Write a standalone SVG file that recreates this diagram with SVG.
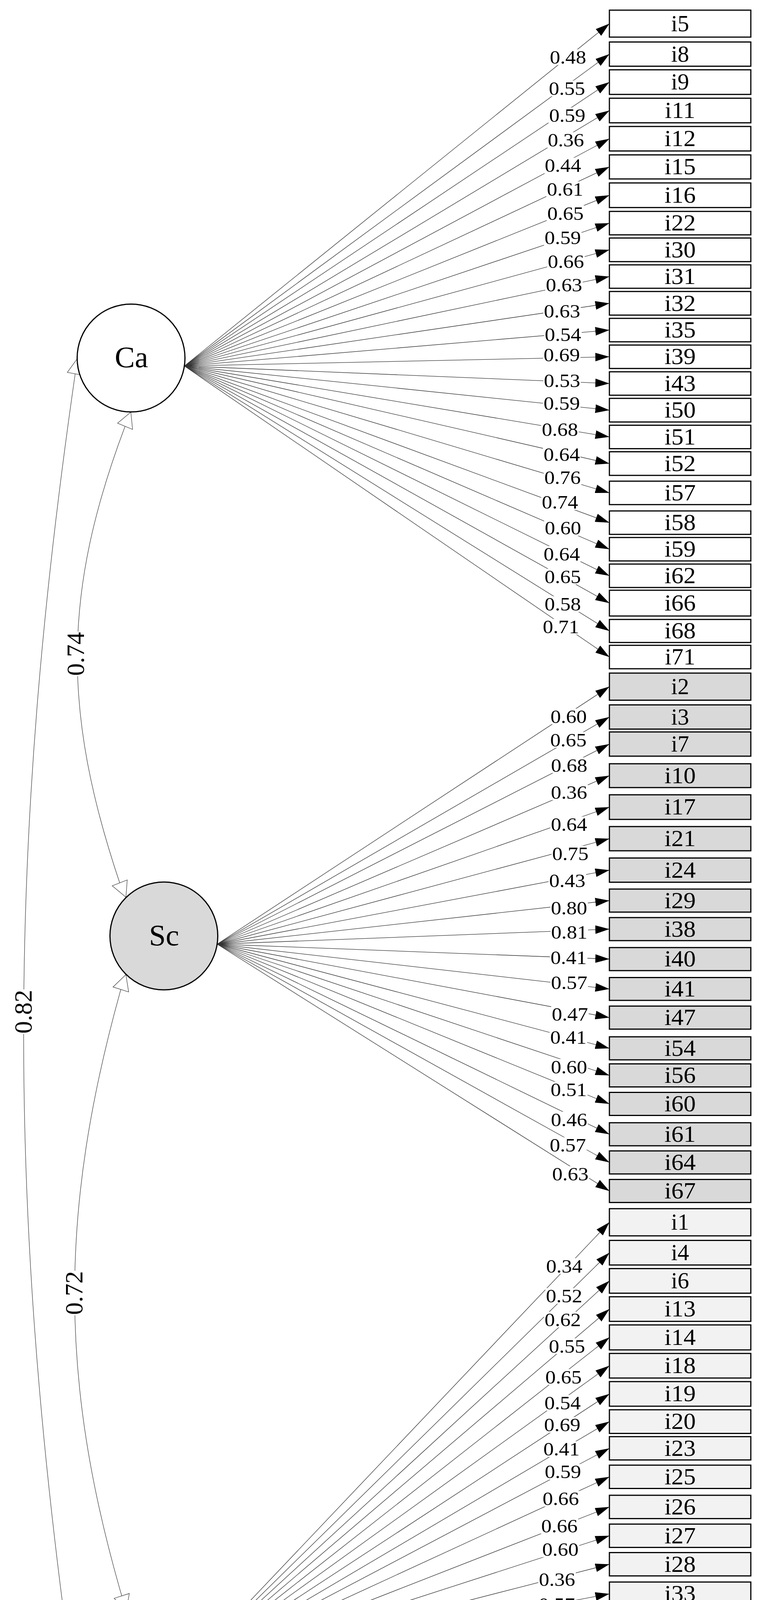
<svg xmlns="http://www.w3.org/2000/svg" width="1966" height="5360" viewBox="0 0 1966 5360">
<defs>
<style>
.edge{stroke:#333;stroke-width:1.3;fill:none;marker-end:url(#arr)}
.cov{stroke:#444;stroke-width:1.3;fill:none}
.ah{fill:#fff;stroke:#444;stroke-width:1.3}
.lbg{fill:#fff}
.lab{font-family:'Liberation Serif','Times New Roman',serif;font-size:48px;text-anchor:middle;fill:#000}
.clab{font-family:'Liberation Serif','Times New Roman',serif;font-size:64px;text-anchor:middle;fill:#000}
.box{stroke:#000;stroke-width:3}
.ca{fill:#fff}.sc{fill:#d9d9d9}.in{fill:#f2f2f2}
.bt{font-family:'Liberation Serif','Times New Roman',serif;font-size:59px;text-anchor:middle;fill:#000}
.nt{font-family:'Liberation Serif','Times New Roman',serif;font-size:77px;text-anchor:middle;fill:#000}
.lat{stroke:#000;stroke-width:3}
</style>
<marker id="arr" markerUnits="userSpaceOnUse" markerWidth="37" markerHeight="23" viewBox="0 0 37 23" refX="36" refY="11" orient="auto"><path d="M0,0 L36,11 L0,22 z" fill="#000"/></marker>
</defs>
<rect width="1966" height="5360" fill="#fff"/>

<g id="connectors">
<g id="cov-edges">
<path class="cov" d="M192.5,957 C19.4,2153 19.4,3067 175.5,4221.8"/>
<path class="cov" d="M320.2,1091.3 C159.5,1518 159.5,1823 306.5,2260.2"/>
<path class="cov" d="M309.3,2533 C151.2,3100 151.2,3532 311.7,4085.5"/>
<polygon class="ah" points="197.7,918.3 172.3,953.3 212.7,960.7"/>
<polygon class="ah" points="335,1055 301,1083.3 339.3,1099.3"/>
<polygon class="ah" points="322.3,2296.7 287.3,2267.7 325.7,2252.7"/>
<polygon class="ah" points="322.3,2495 289.3,2526.7 329.3,2539.3"/>
<polygon class="ah" points="323.3,4123.3 292.3,4091.7 331,4079.3"/>
<polygon class="ah" points="185,4260 160,4224.3 191,4219.3"/>
<rect class="lbg" x="165" y="1617" width="56" height="114"/>
<text class="clab" transform="translate(193.3,1674) rotate(-90)" x="0" y="21.5" textLength="112" lengthAdjust="spacingAndGlyphs">0.74</text>
<rect class="lbg" x="161" y="3253" width="56" height="114"/>
<text class="clab" transform="translate(189,3310) rotate(-90)" x="0" y="21.5" textLength="112" lengthAdjust="spacingAndGlyphs">0.72</text>
<rect class="lbg" x="31" y="2533" width="56" height="114"/>
<text class="clab" transform="translate(59,2590) rotate(-90)" x="0" y="21.5" textLength="112" lengthAdjust="spacingAndGlyphs">0.82</text>
</g>

<g id="loadings-Ca">
<line class="edge" x1="472" y1="937" x2="1560" y2="60.5"/>
<line class="edge" x1="472" y1="937" x2="1560" y2="138.5"/>
<line class="edge" x1="472" y1="937" x2="1560" y2="210.2"/>
<line class="edge" x1="472" y1="937" x2="1560" y2="282.9"/>
<line class="edge" x1="472" y1="937" x2="1560" y2="355.2"/>
<line class="edge" x1="472" y1="937" x2="1560" y2="427.3"/>
<line class="edge" x1="472" y1="937" x2="1560" y2="499.8"/>
<line class="edge" x1="472" y1="937" x2="1560" y2="571.2"/>
<line class="edge" x1="472" y1="937" x2="1560" y2="639.6"/>
<line class="edge" x1="472" y1="937" x2="1560" y2="708"/>
<line class="edge" x1="472" y1="937" x2="1560" y2="776.5"/>
<line class="edge" x1="472" y1="937" x2="1560" y2="845"/>
<line class="edge" x1="472" y1="937" x2="1560" y2="913.3"/>
<line class="edge" x1="472" y1="937" x2="1560" y2="981.8"/>
<line class="edge" x1="472" y1="937" x2="1560" y2="1050"/>
<line class="edge" x1="472" y1="937" x2="1560" y2="1118.6"/>
<line class="edge" x1="472" y1="937" x2="1560" y2="1186.8"/>
<line class="edge" x1="472" y1="937" x2="1560" y2="1261.8"/>
<line class="edge" x1="472" y1="937" x2="1560" y2="1338"/>
<line class="edge" x1="472" y1="937" x2="1560" y2="1406"/>
<line class="edge" x1="472" y1="937" x2="1560" y2="1474"/>
<line class="edge" x1="472" y1="937" x2="1560" y2="1544"/>
<line class="edge" x1="472" y1="937" x2="1560" y2="1615.3"/>
<line class="edge" x1="472" y1="937" x2="1560" y2="1682"/>
</g>
<g id="loadings-Sc">
<line class="edge" x1="556" y1="2417" x2="1560" y2="1757.8"/>
<line class="edge" x1="556" y1="2417" x2="1560" y2="1835.5"/>
<line class="edge" x1="556" y1="2417" x2="1560" y2="1904.8"/>
<line class="edge" x1="556" y1="2417" x2="1560" y2="1985.7"/>
<line class="edge" x1="556" y1="2417" x2="1560" y2="2066.2"/>
<line class="edge" x1="556" y1="2417" x2="1560" y2="2147"/>
<line class="edge" x1="556" y1="2417" x2="1560" y2="2227.5"/>
<line class="edge" x1="556" y1="2417" x2="1560" y2="2305.5"/>
<line class="edge" x1="556" y1="2417" x2="1560" y2="2378.5"/>
<line class="edge" x1="556" y1="2417" x2="1560" y2="2455.3"/>
<line class="edge" x1="556" y1="2417" x2="1560" y2="2531.8"/>
<line class="edge" x1="556" y1="2417" x2="1560" y2="2605.1"/>
<line class="edge" x1="556" y1="2417" x2="1560" y2="2683.7"/>
<line class="edge" x1="556" y1="2417" x2="1560" y2="2753"/>
<line class="edge" x1="556" y1="2417" x2="1560" y2="2826"/>
<line class="edge" x1="556" y1="2417" x2="1560" y2="2903.7"/>
<line class="edge" x1="556" y1="2417" x2="1560" y2="2975.8"/>
<line class="edge" x1="556" y1="2417" x2="1560" y2="3048.9"/>
</g>
<g id="loadings-In">
<line class="edge" x1="461" y1="4287" x2="1560" y2="3129"/>
<line class="edge" x1="461" y1="4287" x2="1560" y2="3206.9"/>
<line class="edge" x1="461" y1="4287" x2="1560" y2="3279.1"/>
<line class="edge" x1="461" y1="4287" x2="1560" y2="3351.2"/>
<line class="edge" x1="461" y1="4287" x2="1560" y2="3423.8"/>
<line class="edge" x1="461" y1="4287" x2="1560" y2="3496.3"/>
<line class="edge" x1="461" y1="4287" x2="1560" y2="3568.4"/>
<line class="edge" x1="461" y1="4287" x2="1560" y2="3639.3"/>
<line class="edge" x1="461" y1="4287" x2="1560" y2="3707.7"/>
<line class="edge" x1="461" y1="4287" x2="1560" y2="3780.7"/>
<line class="edge" x1="461" y1="4287" x2="1560" y2="3857.8"/>
<line class="edge" x1="461" y1="4287" x2="1560" y2="3931.6"/>
<line class="edge" x1="461" y1="4287" x2="1560" y2="4004.5"/>
<line class="edge" x1="461" y1="4287" x2="1560" y2="4080.3"/>
<line class="edge" x1="461" y1="4287" x2="1560" y2="4154.6"/>
<line class="edge" x1="461" y1="4287" x2="1560" y2="4231.7"/>
<line class="edge" x1="461" y1="4287" x2="1560" y2="4306.3"/>
<line class="edge" x1="461" y1="4287" x2="1560" y2="4383.1"/>
<line class="edge" x1="461" y1="4287" x2="1560" y2="4454.4"/>
<line class="edge" x1="461" y1="4287" x2="1560" y2="4527.2"/>
<line class="edge" x1="461" y1="4287" x2="1560" y2="4605.4"/>
<line class="edge" x1="461" y1="4287" x2="1560" y2="4681.1"/>
<line class="edge" x1="461" y1="4287" x2="1560" y2="4748.7"/>
<line class="edge" x1="461" y1="4287" x2="1560" y2="4825.4"/>
<line class="edge" x1="461" y1="4287" x2="1560" y2="4902.4"/>
<line class="edge" x1="461" y1="4287" x2="1560" y2="4972.6"/>
<line class="edge" x1="461" y1="4287" x2="1560" y2="5052.5"/>
<line class="edge" x1="461" y1="4287" x2="1560" y2="5128.8"/>
<line class="edge" x1="461" y1="4287" x2="1560" y2="5209.3"/>
<line class="edge" x1="461" y1="4287" x2="1560" y2="5289.8"/>
</g>

<g id="loading-labels">
<rect class="lbg" x="1406" y="126.4" width="96" height="40"/><text class="lab" x="1454" y="163" textLength="93" lengthAdjust="spacingAndGlyphs">0.48</text>
<rect class="lbg" x="1403.4" y="206.4" width="96" height="40"/><text class="lab" x="1451.4" y="243" textLength="93" lengthAdjust="spacingAndGlyphs">0.55</text>
<rect class="lbg" x="1404.2" y="275.3" width="96" height="40"/><text class="lab" x="1452.2" y="311.9" textLength="93" lengthAdjust="spacingAndGlyphs">0.59</text>
<rect class="lbg" x="1400.7" y="338.4" width="96" height="40"/><text class="lab" x="1448.7" y="375" textLength="93" lengthAdjust="spacingAndGlyphs">0.36</text>
<rect class="lbg" x="1393" y="403.8" width="96" height="40"/><text class="lab" x="1441" y="440.4" textLength="93" lengthAdjust="spacingAndGlyphs">0.44</text>
<rect class="lbg" x="1398.6" y="464.5" width="96" height="40"/><text class="lab" x="1446.6" y="501.1" textLength="93" lengthAdjust="spacingAndGlyphs">0.61</text>
<rect class="lbg" x="1399.6" y="526" width="96" height="40"/><text class="lab" x="1447.6" y="562.6" textLength="93" lengthAdjust="spacingAndGlyphs">0.65</text>
<rect class="lbg" x="1392.6" y="588.8" width="96" height="40"/><text class="lab" x="1440.6" y="625.4" textLength="93" lengthAdjust="spacingAndGlyphs">0.59</text>
<rect class="lbg" x="1400.7" y="648.9" width="96" height="40"/><text class="lab" x="1448.7" y="685.5" textLength="93" lengthAdjust="spacingAndGlyphs">0.66</text>
<rect class="lbg" x="1395.8" y="709.8" width="96" height="40"/><text class="lab" x="1443.8" y="746.4" textLength="93" lengthAdjust="spacingAndGlyphs">0.63</text>
<rect class="lbg" x="1390.8" y="776" width="96" height="40"/><text class="lab" x="1438.8" y="812.6" textLength="93" lengthAdjust="spacingAndGlyphs">0.63</text>
<rect class="lbg" x="1393" y="836.7" width="96" height="40"/><text class="lab" x="1441" y="873.3" textLength="93" lengthAdjust="spacingAndGlyphs">0.54</text>
<rect class="lbg" x="1390" y="888" width="96" height="40"/><text class="lab" x="1438" y="924.6" textLength="93" lengthAdjust="spacingAndGlyphs">0.69</text>
<rect class="lbg" x="1390.8" y="954.4" width="96" height="40"/><text class="lab" x="1438.8" y="991" textLength="93" lengthAdjust="spacingAndGlyphs">0.53</text>
<rect class="lbg" x="1390" y="1012.4" width="96" height="40"/><text class="lab" x="1438" y="1049" textLength="93" lengthAdjust="spacingAndGlyphs">0.59</text>
<rect class="lbg" x="1385.4" y="1079.6" width="96" height="40"/><text class="lab" x="1433.4" y="1116.2" textLength="93" lengthAdjust="spacingAndGlyphs">0.68</text>
<rect class="lbg" x="1390" y="1143" width="96" height="40"/><text class="lab" x="1438" y="1179.6" textLength="93" lengthAdjust="spacingAndGlyphs">0.64</text>
<rect class="lbg" x="1392" y="1202.3" width="96" height="40"/><text class="lab" x="1440" y="1238.9" textLength="93" lengthAdjust="spacingAndGlyphs">0.76</text>
<rect class="lbg" x="1385.4" y="1265.3" width="96" height="40"/><text class="lab" x="1433.4" y="1301.9" textLength="93" lengthAdjust="spacingAndGlyphs">0.74</text>
<rect class="lbg" x="1393" y="1331.6" width="96" height="40"/><text class="lab" x="1441" y="1368.2" textLength="93" lengthAdjust="spacingAndGlyphs">0.60</text>
<rect class="lbg" x="1390" y="1398" width="96" height="40"/><text class="lab" x="1438" y="1434.6" textLength="93" lengthAdjust="spacingAndGlyphs">0.64</text>
<rect class="lbg" x="1392.6" y="1456" width="96" height="40"/><text class="lab" x="1440.6" y="1492.6" textLength="93" lengthAdjust="spacingAndGlyphs">0.65</text>
<rect class="lbg" x="1392.6" y="1526.4" width="96" height="40"/><text class="lab" x="1440.6" y="1563" textLength="93" lengthAdjust="spacingAndGlyphs">0.58</text>
<rect class="lbg" x="1388" y="1584.4" width="96" height="40"/><text class="lab" x="1436" y="1621" textLength="93" lengthAdjust="spacingAndGlyphs">0.71</text>

<rect class="lbg" x="1407.7" y="1814" width="96" height="40"/><text class="lab" x="1455.7" y="1850.6" textLength="93" lengthAdjust="spacingAndGlyphs">0.60</text>
<rect class="lbg" x="1407" y="1874.2" width="96" height="40"/><text class="lab" x="1455" y="1910.8" textLength="93" lengthAdjust="spacingAndGlyphs">0.65</text>
<rect class="lbg" x="1409.1" y="1938.9" width="96" height="40"/><text class="lab" x="1457.1" y="1975.5" textLength="93" lengthAdjust="spacingAndGlyphs">0.68</text>
<rect class="lbg" x="1408.7" y="2008.2" width="96" height="40"/><text class="lab" x="1456.7" y="2044.8" textLength="93" lengthAdjust="spacingAndGlyphs">0.36</text>
<rect class="lbg" x="1408.7" y="2090.5" width="96" height="40"/><text class="lab" x="1456.7" y="2127.1" textLength="93" lengthAdjust="spacingAndGlyphs">0.64</text>
<rect class="lbg" x="1412" y="2165.4" width="96" height="40"/><text class="lab" x="1460" y="2202" textLength="93" lengthAdjust="spacingAndGlyphs">0.75</text>
<rect class="lbg" x="1404.2" y="2234.7" width="96" height="40"/><text class="lab" x="1452.2" y="2271.3" textLength="93" lengthAdjust="spacingAndGlyphs">0.43</text>
<rect class="lbg" x="1408.7" y="2304" width="96" height="40"/><text class="lab" x="1456.7" y="2340.6" textLength="93" lengthAdjust="spacingAndGlyphs">0.80</text>
<rect class="lbg" x="1409.3" y="2366" width="96" height="40"/><text class="lab" x="1457.3" y="2402.6" textLength="93" lengthAdjust="spacingAndGlyphs">0.81</text>
<rect class="lbg" x="1407.7" y="2431.7" width="96" height="40"/><text class="lab" x="1455.7" y="2468.3" textLength="93" lengthAdjust="spacingAndGlyphs">0.41</text>
<rect class="lbg" x="1409" y="2495.5" width="96" height="40"/><text class="lab" x="1457" y="2532.1" textLength="93" lengthAdjust="spacingAndGlyphs">0.57</text>
<rect class="lbg" x="1410.9" y="2575.9" width="96" height="40"/><text class="lab" x="1458.9" y="2612.5" textLength="93" lengthAdjust="spacingAndGlyphs">0.47</text>
<rect class="lbg" x="1407" y="2635.5" width="96" height="40"/><text class="lab" x="1455" y="2672.1" textLength="93" lengthAdjust="spacingAndGlyphs">0.41</text>
<rect class="lbg" x="1408.7" y="2710.9" width="96" height="40"/><text class="lab" x="1456.7" y="2747.5" textLength="93" lengthAdjust="spacingAndGlyphs">0.60</text>
<rect class="lbg" x="1407.9" y="2769.1" width="96" height="40"/><text class="lab" x="1455.9" y="2805.7" textLength="93" lengthAdjust="spacingAndGlyphs">0.51</text>
<rect class="lbg" x="1408.7" y="2845.9" width="96" height="40"/><text class="lab" x="1456.7" y="2882.5" textLength="93" lengthAdjust="spacingAndGlyphs">0.46</text>
<rect class="lbg" x="1405.7" y="2911.5" width="96" height="40"/><text class="lab" x="1453.7" y="2948.1" textLength="93" lengthAdjust="spacingAndGlyphs">0.57</text>
<rect class="lbg" x="1412" y="2985.5" width="96" height="40"/><text class="lab" x="1460" y="3022.1" textLength="93" lengthAdjust="spacingAndGlyphs">0.63</text>

<rect class="lbg" x="1396.4" y="3221" width="96" height="40"/><text class="lab" x="1444.4" y="3257.6" textLength="93" lengthAdjust="spacingAndGlyphs">0.34</text>
<rect class="lbg" x="1396" y="3297.6" width="96" height="40"/><text class="lab" x="1444" y="3334.2" textLength="93" lengthAdjust="spacingAndGlyphs">0.52</text>
<rect class="lbg" x="1392.6" y="3358.1" width="96" height="40"/><text class="lab" x="1440.6" y="3394.7" textLength="93" lengthAdjust="spacingAndGlyphs">0.62</text>
<rect class="lbg" x="1403.4" y="3426.1" width="96" height="40"/><text class="lab" x="1451.4" y="3462.7" textLength="93" lengthAdjust="spacingAndGlyphs">0.55</text>
<rect class="lbg" x="1394.6" y="3504.9" width="96" height="40"/><text class="lab" x="1442.6" y="3541.5" textLength="93" lengthAdjust="spacingAndGlyphs">0.65</text>
<rect class="lbg" x="1392.2" y="3571.2" width="96" height="40"/><text class="lab" x="1440.2" y="3607.8" textLength="93" lengthAdjust="spacingAndGlyphs">0.54</text>
<rect class="lbg" x="1391.3" y="3627.6" width="96" height="40"/><text class="lab" x="1439.3" y="3664.2" textLength="93" lengthAdjust="spacingAndGlyphs">0.69</text>
<rect class="lbg" x="1389.4" y="3689.8" width="96" height="40"/><text class="lab" x="1437.4" y="3726.4" textLength="93" lengthAdjust="spacingAndGlyphs">0.41</text>
<rect class="lbg" x="1393" y="3747.8" width="96" height="40"/><text class="lab" x="1441" y="3784.4" textLength="93" lengthAdjust="spacingAndGlyphs">0.59</text>
<rect class="lbg" x="1387.5" y="3816.6" width="96" height="40"/><text class="lab" x="1435.5" y="3853.2" textLength="93" lengthAdjust="spacingAndGlyphs">0.66</text>
<rect class="lbg" x="1384.1" y="3886.3" width="96" height="40"/><text class="lab" x="1432.1" y="3922.9" textLength="93" lengthAdjust="spacingAndGlyphs">0.66</text>
<rect class="lbg" x="1386.5" y="3946.4" width="96" height="40"/><text class="lab" x="1434.5" y="3983" textLength="93" lengthAdjust="spacingAndGlyphs">0.60</text>
<rect class="lbg" x="1377.9" y="4023" width="96" height="40"/><text class="lab" x="1425.9" y="4059.6" textLength="93" lengthAdjust="spacingAndGlyphs">0.36</text>
<rect class="lbg" x="1377.3" y="4086.9" width="96" height="40"/><text class="lab" x="1425.3" y="4123.5" textLength="93" lengthAdjust="spacingAndGlyphs">0.57</text>
<rect class="lbg" x="1378.3" y="4155.7" width="96" height="40"/><text class="lab" x="1426.3" y="4192.3" textLength="93" lengthAdjust="spacingAndGlyphs">0.71</text>
<rect class="lbg" x="1371.8" y="4222.9" width="96" height="40"/><text class="lab" x="1419.8" y="4259.5" textLength="93" lengthAdjust="spacingAndGlyphs">0.53</text>
<rect class="lbg" x="1374.4" y="4288.3" width="96" height="40"/><text class="lab" x="1422.4" y="4324.9" textLength="93" lengthAdjust="spacingAndGlyphs">0.62</text>
<rect class="lbg" x="1379" y="4355.5" width="96" height="40"/><text class="lab" x="1427" y="4392.1" textLength="93" lengthAdjust="spacingAndGlyphs">0.65</text>
<rect class="lbg" x="1374.4" y="4415.3" width="96" height="40"/><text class="lab" x="1422.4" y="4451.9" textLength="93" lengthAdjust="spacingAndGlyphs">0.62</text>
<rect class="lbg" x="1377.3" y="4483" width="96" height="40"/><text class="lab" x="1425.3" y="4519.6" textLength="93" lengthAdjust="spacingAndGlyphs">0.72</text>
<rect class="lbg" x="1372.4" y="4550.6" width="96" height="40"/><text class="lab" x="1420.4" y="4587.2" textLength="93" lengthAdjust="spacingAndGlyphs">0.31</text>
<rect class="lbg" x="1375.3" y="4618.2" width="96" height="40"/><text class="lab" x="1423.3" y="4654.8" textLength="93" lengthAdjust="spacingAndGlyphs">0.53</text>
<rect class="lbg" x="1373.3" y="4674.6" width="96" height="40"/><text class="lab" x="1421.3" y="4711.2" textLength="93" lengthAdjust="spacingAndGlyphs">0.57</text>
<rect class="lbg" x="1375.7" y="4742.6" width="96" height="40"/><text class="lab" x="1423.7" y="4779.2" textLength="93" lengthAdjust="spacingAndGlyphs">0.60</text>
<rect class="lbg" x="1374.4" y="4813.1" width="96" height="40"/><text class="lab" x="1422.4" y="4849.7" textLength="93" lengthAdjust="spacingAndGlyphs">0.49</text>
<rect class="lbg" x="1377.3" y="4879.1" width="96" height="40"/><text class="lab" x="1425.3" y="4915.7" textLength="93" lengthAdjust="spacingAndGlyphs">0.26</text>
<rect class="lbg" x="1371.4" y="4956.4" width="96" height="40"/><text class="lab" x="1419.4" y="4993" textLength="93" lengthAdjust="spacingAndGlyphs">0.57</text>
<rect class="lbg" x="1383.3" y="5017.6" width="96" height="40"/><text class="lab" x="1431.3" y="5054.2" textLength="93" lengthAdjust="spacingAndGlyphs">0.65</text>
<rect class="lbg" x="1372.1" y="5078.8" width="96" height="40"/><text class="lab" x="1420.1" y="5115.4" textLength="93" lengthAdjust="spacingAndGlyphs">0.34</text>
<rect class="lbg" x="1377.3" y="5175.4" width="96" height="40"/><text class="lab" x="1425.3" y="5212" textLength="93" lengthAdjust="spacingAndGlyphs">0.45</text>
</g>
</g>

<g id="latent-nodes">
<g id="node-Ca"><circle class="lat ca" cx="335.5" cy="916.5" r="138"/><text class="nt" x="336.5" y="940">Ca</text></g>
<g id="node-Sc"><circle class="lat sc" cx="419.5" cy="2396" r="138"/><text class="nt" x="420" y="2420">Sc</text></g>
<g id="node-In"><circle class="lat in" cx="324" cy="4263.5" r="138"/><text class="nt" x="325" y="4287">In</text></g>
</g>

<g id="item-nodes">
<g id="node-i5"><rect class="box ca" x="1560" y="26" width="362" height="69"/><text class="bt" x="1741" y="79.5">i5</text></g>
<g id="node-i8"><rect class="box ca" x="1560" y="107.5" width="362" height="62"/><text class="bt" x="1741" y="157.5">i8</text></g>
<g id="node-i9"><rect class="box ca" x="1560" y="178.7" width="362" height="63"/><text class="bt" x="1741" y="229.2">i9</text></g>
<g id="node-i11"><rect class="box ca" x="1560" y="251.4" width="362" height="63"/><text class="bt" x="1741" y="301.9" textLength="78" lengthAdjust="spacingAndGlyphs">i11</text></g>
<g id="node-i12"><rect class="box ca" x="1560" y="323.8" width="362" height="62.7"/><text class="bt" x="1741" y="374.2" textLength="80" lengthAdjust="spacingAndGlyphs">i12</text></g>
<g id="node-i15"><rect class="box ca" x="1560" y="396.5" width="362" height="61.6"/><text class="bt" x="1741" y="446.3" textLength="80" lengthAdjust="spacingAndGlyphs">i15</text></g>
<g id="node-i16"><rect class="box ca" x="1560" y="468.3" width="362" height="63"/><text class="bt" x="1741" y="518.8" textLength="80" lengthAdjust="spacingAndGlyphs">i16</text></g>
<g id="node-i22"><rect class="box ca" x="1560" y="541.2" width="362" height="60"/><text class="bt" x="1741" y="590.2" textLength="80" lengthAdjust="spacingAndGlyphs">i22</text></g>
<g id="node-i30"><rect class="box ca" x="1560" y="609.3" width="362" height="60.5"/><text class="bt" x="1741" y="658.6" textLength="80" lengthAdjust="spacingAndGlyphs">i30</text></g>
<g id="node-i31"><rect class="box ca" x="1560" y="678" width="362" height="60"/><text class="bt" x="1741" y="727" textLength="80" lengthAdjust="spacingAndGlyphs">i31</text></g>
<g id="node-i32"><rect class="box ca" x="1560" y="746.2" width="362" height="60.5"/><text class="bt" x="1741" y="795.5" textLength="80" lengthAdjust="spacingAndGlyphs">i32</text></g>
<g id="node-i35"><rect class="box ca" x="1560" y="815" width="362" height="60"/><text class="bt" x="1741" y="864" textLength="80" lengthAdjust="spacingAndGlyphs">i35</text></g>
<g id="node-i39"><rect class="box ca" x="1560" y="883.3" width="362" height="60"/><text class="bt" x="1741" y="932.3" textLength="80" lengthAdjust="spacingAndGlyphs">i39</text></g>
<g id="node-i43"><rect class="box ca" x="1560" y="951.8" width="362" height="60"/><text class="bt" x="1741" y="1000.8" textLength="80" lengthAdjust="spacingAndGlyphs">i43</text></g>
<g id="node-i50"><rect class="box ca" x="1560" y="1019.8" width="362" height="60.5"/><text class="bt" x="1741" y="1069" textLength="80" lengthAdjust="spacingAndGlyphs">i50</text></g>
<g id="node-i51"><rect class="box ca" x="1560" y="1088.6" width="362" height="60"/><text class="bt" x="1741" y="1137.6" textLength="80" lengthAdjust="spacingAndGlyphs">i51</text></g>
<g id="node-i52"><rect class="box ca" x="1560" y="1156.5" width="362" height="60.5"/><text class="bt" x="1741" y="1205.8" textLength="80" lengthAdjust="spacingAndGlyphs">i52</text></g>
<g id="node-i57"><rect class="box ca" x="1560" y="1231.8" width="362" height="60"/><text class="bt" x="1741" y="1280.8" textLength="80" lengthAdjust="spacingAndGlyphs">i57</text></g>
<g id="node-i58"><rect class="box ca" x="1560" y="1308" width="362" height="60"/><text class="bt" x="1741" y="1357" textLength="80" lengthAdjust="spacingAndGlyphs">i58</text></g>
<g id="node-i59"><rect class="box ca" x="1560" y="1376" width="362" height="60"/><text class="bt" x="1741" y="1425" textLength="80" lengthAdjust="spacingAndGlyphs">i59</text></g>
<g id="node-i62"><rect class="box ca" x="1560" y="1444" width="362" height="60"/><text class="bt" x="1741" y="1493" textLength="80" lengthAdjust="spacingAndGlyphs">i62</text></g>
<g id="node-i66"><rect class="box ca" x="1560" y="1511" width="362" height="66"/><text class="bt" x="1741" y="1563" textLength="80" lengthAdjust="spacingAndGlyphs">i66</text></g>
<g id="node-i68"><rect class="box ca" x="1560" y="1585.8" width="362" height="59"/><text class="bt" x="1741" y="1634.3" textLength="80" lengthAdjust="spacingAndGlyphs">i68</text></g>
<g id="node-i71"><rect class="box ca" x="1560" y="1652" width="362" height="60"/><text class="bt" x="1741" y="1701" textLength="78" lengthAdjust="spacingAndGlyphs">i71</text></g>

<g id="node-i2"><rect class="box sc" x="1560" y="1723.1" width="362" height="69.4"/><text class="bt" x="1741" y="1776.8">i2</text></g>
<g id="node-i3"><rect class="box sc" x="1560" y="1804.5" width="362" height="62"/><text class="bt" x="1741" y="1854.5">i3</text></g>
<g id="node-i7"><rect class="box sc" x="1560" y="1873.8" width="362" height="62"/><text class="bt" x="1741" y="1923.8">i7</text></g>
<g id="node-i10"><rect class="box sc" x="1560" y="1955.2" width="362" height="61"/><text class="bt" x="1741" y="2004.7" textLength="80" lengthAdjust="spacingAndGlyphs">i10</text></g>
<g id="node-i17"><rect class="box sc" x="1560" y="2034.7" width="362" height="63"/><text class="bt" x="1741" y="2085.2" textLength="80" lengthAdjust="spacingAndGlyphs">i17</text></g>
<g id="node-i21"><rect class="box sc" x="1560" y="2116" width="362" height="62"/><text class="bt" x="1741" y="2166" textLength="80" lengthAdjust="spacingAndGlyphs">i21</text></g>
<g id="node-i24"><rect class="box sc" x="1560" y="2196.5" width="362" height="62"/><text class="bt" x="1741" y="2246.5" textLength="80" lengthAdjust="spacingAndGlyphs">i24</text></g>
<g id="node-i29"><rect class="box sc" x="1560" y="2276" width="362" height="59"/><text class="bt" x="1741" y="2324.5" textLength="80" lengthAdjust="spacingAndGlyphs">i29</text></g>
<g id="node-i38"><rect class="box sc" x="1560" y="2349" width="362" height="59"/><text class="bt" x="1741" y="2397.5" textLength="80" lengthAdjust="spacingAndGlyphs">i38</text></g>
<g id="node-i40"><rect class="box sc" x="1560" y="2425.8" width="362" height="59"/><text class="bt" x="1741" y="2474.3" textLength="80" lengthAdjust="spacingAndGlyphs">i40</text></g>
<g id="node-i41"><rect class="box sc" x="1560" y="2502.5" width="362" height="58.5"/><text class="bt" x="1741" y="2550.8" textLength="80" lengthAdjust="spacingAndGlyphs">i41</text></g>
<g id="node-i47"><rect class="box sc" x="1560" y="2575.6" width="362" height="59"/><text class="bt" x="1741" y="2624.1" textLength="80" lengthAdjust="spacingAndGlyphs">i47</text></g>
<g id="node-i54"><rect class="box sc" x="1560" y="2654.2" width="362" height="59"/><text class="bt" x="1741" y="2702.7" textLength="80" lengthAdjust="spacingAndGlyphs">i54</text></g>
<g id="node-i56"><rect class="box sc" x="1560" y="2723.5" width="362" height="59"/><text class="bt" x="1741" y="2772" textLength="80" lengthAdjust="spacingAndGlyphs">i56</text></g>
<g id="node-i60"><rect class="box sc" x="1560" y="2796.5" width="362" height="59"/><text class="bt" x="1741" y="2845" textLength="80" lengthAdjust="spacingAndGlyphs">i60</text></g>
<g id="node-i61"><rect class="box sc" x="1560" y="2874.2" width="362" height="59"/><text class="bt" x="1741" y="2922.7" textLength="80" lengthAdjust="spacingAndGlyphs">i61</text></g>
<g id="node-i64"><rect class="box sc" x="1560" y="2946.3" width="362" height="59"/><text class="bt" x="1741" y="2994.8" textLength="80" lengthAdjust="spacingAndGlyphs">i64</text></g>
<g id="node-i67"><rect class="box sc" x="1560" y="3019.4" width="362" height="59"/><text class="bt" x="1741" y="3067.9" textLength="80" lengthAdjust="spacingAndGlyphs">i67</text></g>

<g id="node-i1"><rect class="box in" x="1560" y="3094.2" width="362" height="69.6"/><text class="bt" x="1741" y="3148">i1</text></g>
<g id="node-i4"><rect class="box in" x="1560" y="3175.4" width="362" height="63"/><text class="bt" x="1741" y="3225.9">i4</text></g>
<g id="node-i6"><rect class="box in" x="1560" y="3247.6" width="362" height="63"/><text class="bt" x="1741" y="3298.1">i6</text></g>
<g id="node-i13"><rect class="box in" x="1560" y="3319.7" width="362" height="63"/><text class="bt" x="1741" y="3370.2" textLength="80" lengthAdjust="spacingAndGlyphs">i13</text></g>
<g id="node-i14"><rect class="box in" x="1560" y="3391.8" width="362" height="64"/><text class="bt" x="1741" y="3442.8" textLength="80" lengthAdjust="spacingAndGlyphs">i14</text></g>
<g id="node-i18"><rect class="box in" x="1560" y="3464.8" width="362" height="63"/><text class="bt" x="1741" y="3515.3" textLength="80" lengthAdjust="spacingAndGlyphs">i18</text></g>
<g id="node-i19"><rect class="box in" x="1560" y="3536.9" width="362" height="63"/><text class="bt" x="1741" y="3587.4" textLength="80" lengthAdjust="spacingAndGlyphs">i19</text></g>
<g id="node-i20"><rect class="box in" x="1560" y="3609" width="362" height="60.6"/><text class="bt" x="1741" y="3658.3" textLength="80" lengthAdjust="spacingAndGlyphs">i20</text></g>
<g id="node-i23"><rect class="box in" x="1560" y="3677.8" width="362" height="59.7"/><text class="bt" x="1741" y="3726.7" textLength="80" lengthAdjust="spacingAndGlyphs">i23</text></g>
<g id="node-i25"><rect class="box in" x="1560" y="3750.8" width="362" height="59.7"/><text class="bt" x="1741" y="3799.7" textLength="80" lengthAdjust="spacingAndGlyphs">i25</text></g>
<g id="node-i26"><rect class="box in" x="1560" y="3827.9" width="362" height="59.7"/><text class="bt" x="1741" y="3876.8" textLength="80" lengthAdjust="spacingAndGlyphs">i26</text></g>
<g id="node-i27"><rect class="box in" x="1560" y="3901.7" width="362" height="59.7"/><text class="bt" x="1741" y="3950.6" textLength="80" lengthAdjust="spacingAndGlyphs">i27</text></g>
<g id="node-i28"><rect class="box in" x="1560" y="3974.6" width="362" height="59.7"/><text class="bt" x="1741" y="4023.5" textLength="80" lengthAdjust="spacingAndGlyphs">i28</text></g>
<g id="node-i33"><rect class="box in" x="1560" y="4050" width="362" height="60.6"/><text class="bt" x="1741" y="4099.3" textLength="80" lengthAdjust="spacingAndGlyphs">i33</text></g>
<g id="node-i34"><rect class="box in" x="1560" y="4124.7" width="362" height="59.7"/><text class="bt" x="1741" y="4173.6" textLength="80" lengthAdjust="spacingAndGlyphs">i34</text></g>
<g id="node-i36"><rect class="box in" x="1560" y="4201.8" width="362" height="59.7"/><text class="bt" x="1741" y="4250.7" textLength="80" lengthAdjust="spacingAndGlyphs">i36</text></g>
<g id="node-i37"><rect class="box in" x="1560" y="4276.4" width="362" height="59.7"/><text class="bt" x="1741" y="4325.3" textLength="80" lengthAdjust="spacingAndGlyphs">i37</text></g>
<g id="node-i42"><rect class="box in" x="1560" y="4353.6" width="362" height="59"/><text class="bt" x="1741" y="4402.1" textLength="80" lengthAdjust="spacingAndGlyphs">i42</text></g>
<g id="node-i44"><rect class="box in" x="1560" y="4424.7" width="362" height="59.3"/><text class="bt" x="1741" y="4473.4" textLength="80" lengthAdjust="spacingAndGlyphs">i44</text></g>
<g id="node-i45"><rect class="box in" x="1560" y="4497.5" width="362" height="59.3"/><text class="bt" x="1741" y="4546.2" textLength="80" lengthAdjust="spacingAndGlyphs">i45</text></g>
<g id="node-i46"><rect class="box in" x="1560" y="4575.4" width="362" height="59.9"/><text class="bt" x="1741" y="4624.4" textLength="80" lengthAdjust="spacingAndGlyphs">i46</text></g>
<g id="node-i48"><rect class="box in" x="1560" y="4652.7" width="362" height="56.7"/><text class="bt" x="1741" y="4700.1" textLength="80" lengthAdjust="spacingAndGlyphs">i48</text></g>
<g id="node-i49"><rect class="box in" x="1560" y="4720.4" width="362" height="56.6"/><text class="bt" x="1741" y="4767.7" textLength="80" lengthAdjust="spacingAndGlyphs">i49</text></g>
<g id="node-i53"><rect class="box in" x="1560" y="4791.9" width="362" height="67"/><text class="bt" x="1741" y="4844.4" textLength="80" lengthAdjust="spacingAndGlyphs">i53</text></g>
<g id="node-i55"><rect class="box in" x="1560" y="4873.7" width="362" height="57.3"/><text class="bt" x="1741" y="4921.4" textLength="80" lengthAdjust="spacingAndGlyphs">i55</text></g>
<g id="node-i63"><rect class="box in" x="1560" y="4943.9" width="362" height="57.3"/><text class="bt" x="1741" y="4991.6" textLength="80" lengthAdjust="spacingAndGlyphs">i63</text></g>
<g id="node-i65"><rect class="box in" x="1560" y="5023.8" width="362" height="57.3"/><text class="bt" x="1741" y="5071.5" textLength="80" lengthAdjust="spacingAndGlyphs">i65</text></g>
<g id="node-i69"><rect class="box in" x="1560" y="5100.4" width="362" height="56.7"/><text class="bt" x="1741" y="5147.8" textLength="80" lengthAdjust="spacingAndGlyphs">i69</text></g>
<g id="node-i70"><rect class="box in" x="1560" y="5180.9" width="362" height="56.7"/><text class="bt" x="1741" y="5228.3" textLength="80" lengthAdjust="spacingAndGlyphs">i70</text></g>
<g id="node-i72"><rect class="box in" x="1560" y="5261.4" width="362" height="56.7"/><text class="bt" x="1741" y="5308.8" textLength="80" lengthAdjust="spacingAndGlyphs">i72</text></g>
</g>
</svg>
